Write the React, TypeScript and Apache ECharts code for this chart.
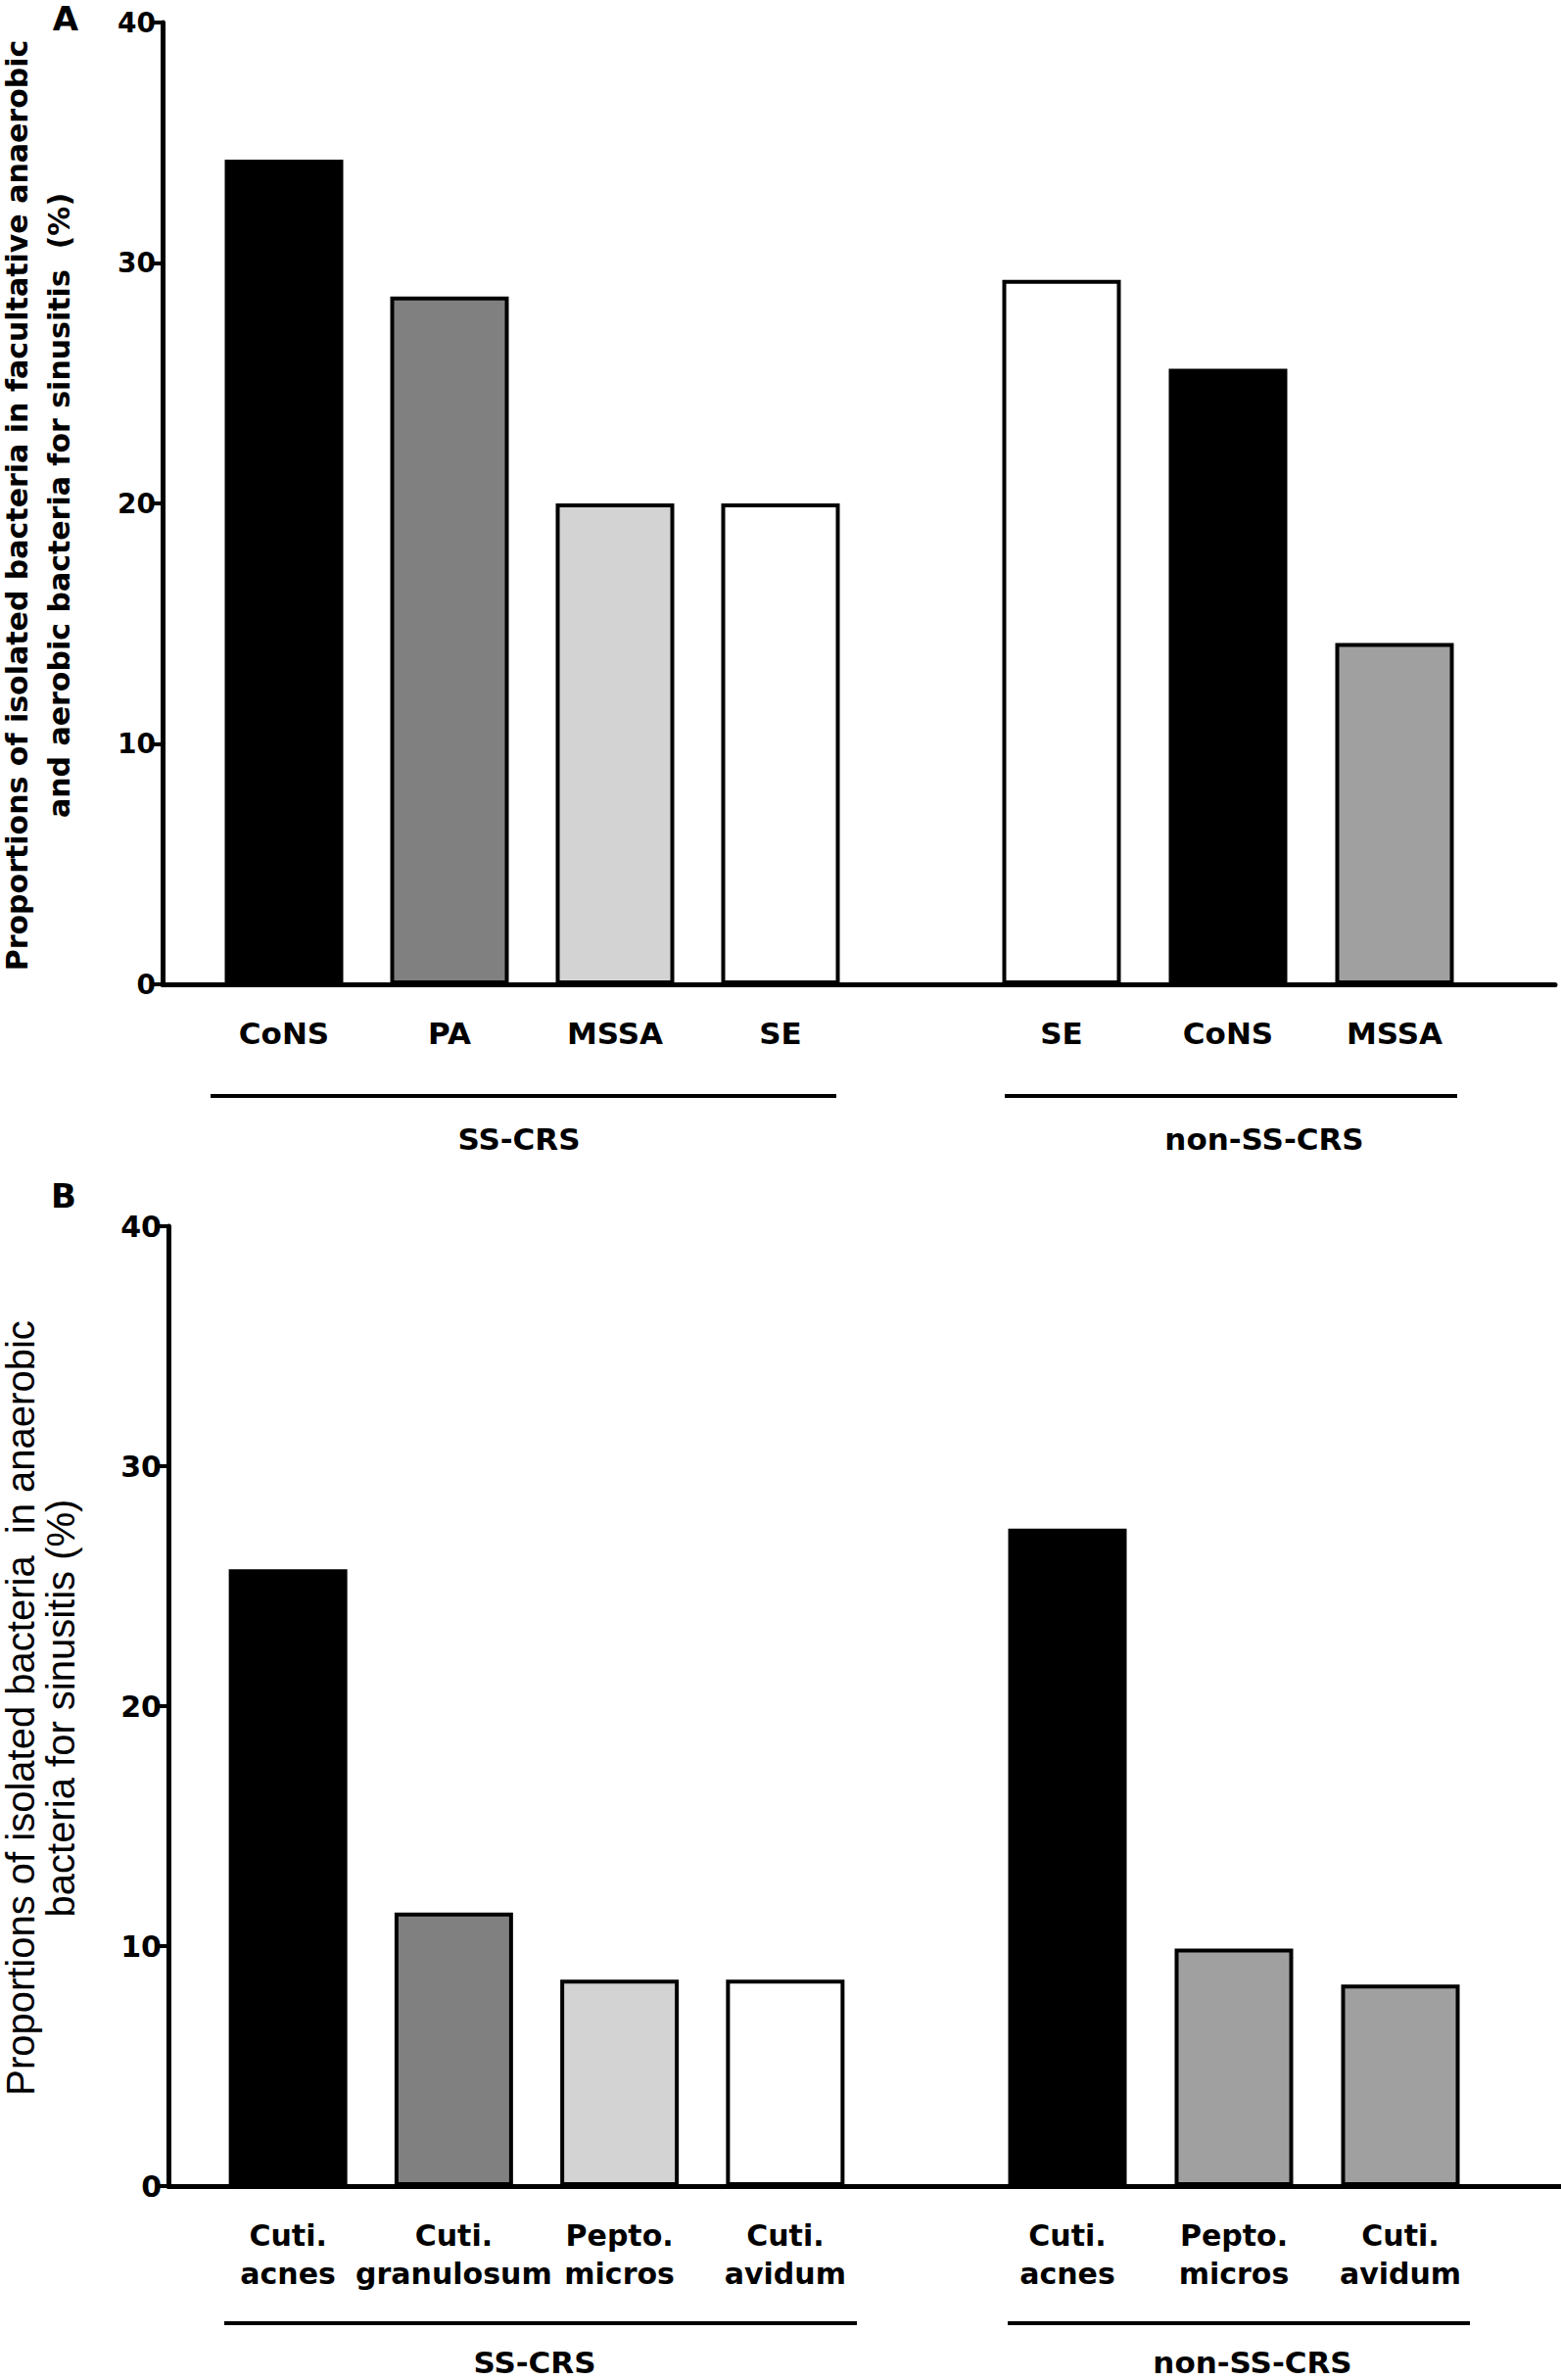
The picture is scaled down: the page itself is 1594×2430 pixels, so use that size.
import React, { useEffect, useRef } from 'react';
import * as echarts from 'echarts';

// ---------- Data ----------
const yMin = 0;
const yMax = 40;
const yInterval = 10;

const aSSCategories = ['CoNS', 'PA', 'MSSA', 'SE'];
const aSSValues = [34.3, 28.6, 20.0, 20.0];
const aNonCategories = ['SE', 'CoNS', 'MSSA'];
const aNonValues = [29.3, 25.6, 14.2];

const bSSCategories = ['Cuti.\nacnes', 'Cuti.\ngranulosum', 'Pepto.\nmicros', 'Cuti.\navidum'];
const bSSValues = [25.7, 11.4, 8.6, 8.6];
const bNonCategories = ['Cuti.\nacnes', 'Pepto.\nmicros', 'Cuti.\navidum'];
const bNonValues = [27.4, 9.9, 8.4];

const groupNames = ['SS-CRS', 'non-SS-CRS'];

const titleALines = [
  'Proportions of isolated bacteria in facultative anaerobic',
  'and aerobic bacteria for sinusitis  (%)',
];
const titleBLines = [
  'Proportions of isolated bacteria  in anaerobic',
  'bacteria for sinusitis (%)',
];

// ---------- Styles ----------
const WIDE = "'DejaVu Sans', Verdana, sans-serif";
const ARIAL = "'Liberation Sans', Arial, Helvetica, sans-serif";
const BLACK = '#000000';
const DARK = '#808080';
const LIGHT = '#d3d3d3';
const WHITE = '#ffffff';
const MID = '#a0a0a0';

const aSSColors = [BLACK, DARK, LIGHT, WHITE];
const aNonColors = [WHITE, BLACK, MID];
const bSSColors = [BLACK, DARK, LIGHT, WHITE];
const bNonColors = [BLACK, MID, MID];

function barData(values: number[], colors: string[]) {
  return values.map((v, i) => ({
    value: v,
    itemStyle: { color: colors[i], borderColor: '#000', borderWidth: 4 },
  }));
}

function buildOption() {
  const grids: any[] = [];
  const xAxes: any[] = [];
  const yAxes: any[] = [];
  const series: any[] = [];

  const panels = [
    {
      axisLeft: 166, top: 23, bottom: 1005, right: 1588, tickFont: 28,
      g1: { left: 205.5, width: 676 }, g2: { left: 999, width: 510 },
      cats1: aSSCategories, vals1: aSSValues, cols1: aSSColors,
      cats2: aNonCategories, vals2: aNonValues, cols2: aNonColors,
      labelFont: 31, labelLH: 36, labelMargin: 32,
    },
    {
      axisLeft: 172, top: 1252, bottom: 2232, right: 1594, tickFont: 30,
      g1: { left: 209.5, width: 677 }, g2: { left: 1005, width: 510 },
      cats1: bSSCategories, vals1: bSSValues, cols1: bSSColors,
      cats2: bNonCategories, vals2: bNonValues, cols2: bNonColors,
      labelFont: 30, labelLH: 39, labelMargin: 31,
    },
  ];

  panels.forEach((p) => {
    const h = p.bottom - p.top;
    const gMain = grids.length;
    grids.push({ left: p.axisLeft, top: p.top, width: p.right - p.axisLeft, height: h, containLabel: false });
    xAxes.push({
      gridIndex: gMain, type: 'value', min: 0, max: 1,
      axisLine: { show: true, lineStyle: { color: '#000', width: 5 } },
      axisTick: { show: false }, axisLabel: { show: false }, splitLine: { show: false },
    });
    yAxes.push({
      gridIndex: gMain, type: 'value', min: yMin, max: yMax, interval: yInterval,
      axisLine: { show: true, lineStyle: { color: '#000', width: 5 } },
      axisTick: { show: true, length: 12, lineStyle: { color: '#000', width: 4 } },
      axisLabel: { show: true, color: '#000', fontFamily: WIDE, fontWeight: 'bold', fontSize: p.tickFont, margin: 7 },
      splitLine: { show: false },
    });

    const groups = [
      { g: p.g1, cats: p.cats1, vals: p.vals1, cols: p.cols1 },
      { g: p.g2, cats: p.cats2, vals: p.vals2, cols: p.cols2 },
    ];
    groups.forEach((gr) => {
      const gi = grids.length;
      grids.push({ left: gr.g.left, top: p.top, width: gr.g.width, height: h, containLabel: false });
      xAxes.push({
        gridIndex: gi, type: 'category', data: gr.cats,
        axisLine: { show: false }, axisTick: { show: false },
        axisLabel: {
          show: true, interval: 0, color: '#000', fontFamily: WIDE, fontWeight: 'bold',
          fontSize: p.labelFont, lineHeight: p.labelLH, margin: p.labelMargin,
        },
      });
      yAxes.push({ gridIndex: gi, type: 'value', min: yMin, max: yMax, interval: yInterval, show: false });
      series.push({
        type: 'bar', xAxisIndex: gi, yAxisIndex: gi, barWidth: 121,
        data: barData(gr.vals, gr.cols), z: 1,
      });
    });
  });

  const line = (x1: number, x2: number, y: number) => ({
    type: 'line', shape: { x1, y1: y, x2, y2: y }, style: { stroke: '#000', lineWidth: 4 }, z: 10,
  });
  const label = (text: string, x: number, y: number, size: number) => ({
    type: 'text', x, y, z: 10,
    style: {
      text, fill: '#000', fontFamily: WIDE, fontSize: size, fontWeight: 'bold',
      textAlign: 'center', textVerticalAlign: 'middle',
    },
  });
  const vtitle = (text: string, x: number, y: number, size: number, weight: string, family: string) => ({
    type: 'text', x, y, rotation: Math.PI / 2, z: 10,
    style: {
      text, fill: '#000', fontFamily: family, fontSize: size, fontWeight: weight, lineHeight: size,
      textAlign: 'center', textVerticalAlign: 'middle',
    },
  });

  const graphic = [
    label('A', 67, 19, 34),
    label('B', 65, 1221, 34),
    vtitle(titleALines[0], 17, 516, 30, 'bold', WIDE),
    vtitle(titleALines[1], 60, 516, 30, 'bold', WIDE),
    vtitle(titleBLines[0], 21, 1744, 40, 'normal', ARIAL),
    vtitle(titleBLines[1], 62, 1744, 40, 'normal', ARIAL),
    line(215, 854, 1119),
    line(1026, 1488, 1119),
    label(groupNames[0], 530, 1163, 31),
    label(groupNames[1], 1291, 1163, 31),
    line(229, 875, 2372),
    line(1029, 1501, 2372),
    label(groupNames[0], 546, 2412, 31),
    label(groupNames[1], 1279, 2412, 31),
  ];

  return {
    animation: false,
    backgroundColor: '#fff',
    grid: grids,
    xAxis: xAxes,
    yAxis: yAxes,
    series,
    graphic,
  };
}

export default function App() {
  const ref = useRef<HTMLDivElement>(null);
  useEffect(() => {
    if (!ref.current) return;
    const chart = echarts.init(ref.current, null, { renderer: 'svg' });
    chart.setOption(buildOption() as any);
    return () => chart.dispose();
  }, []);
  return (
    <div
      ref={ref}
      style={{ position: 'absolute', left: 0, top: 0, width: 1594, height: 2430, background: '#fff' }}
    />
  );
}
